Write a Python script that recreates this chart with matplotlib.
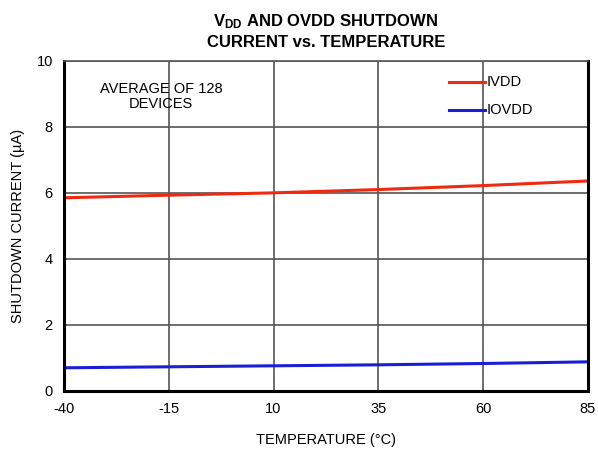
import matplotlib
matplotlib.use("Agg")
import matplotlib.pyplot as plt

# data
temps = [-40, -15, 10, 35, 60, 85]
ivdd = [5.85, 5.93, 6.0, 6.1, 6.22, 6.36]
iovdd = [0.70, 0.73, 0.76, 0.79, 0.83, 0.88]
xticks = [-40, -15, 10, 35, 60, 85]
yticks = [0, 2, 4, 6, 8, 10]

fam = ['Liberation Sans Narrow', 'Liberation Sans', 'DejaVu Sans']
plt.rcParams['font.family'] = fam
plt.rcParams['mathtext.fontset'] = 'custom'
plt.rcParams['mathtext.rm'] = 'Liberation Sans:bold'
plt.rcParams['mathtext.bf'] = 'Liberation Sans:bold'

fig = plt.figure(figsize=(5.98, 4.54), dpi=100)
ax = fig.add_axes([0.107, 0.139, 0.876, 0.727])

ax.plot(temps, ivdd, color='#ee2a10', lw=2.2)
ax.plot(temps, iovdd, color='#1a1fd6', lw=2.2)

ax.set_xlim(-40, 85)
ax.set_ylim(0, 10)
ax.set_xticks(xticks)
ax.set_yticks(yticks)
ax.set_xticklabels([str(t) for t in xticks])
ax.tick_params(length=0, labelsize=10.5, pad=8)
ax.grid(True, color='#555555', lw=1.2)
ax.set_axisbelow(True)
for s in ['left', 'bottom', 'right']:
    ax.spines[s].set_linewidth(2.2)
    ax.spines[s].set_color('black')
ax.spines['top'].set_linewidth(1.2)
ax.spines['top'].set_color('#555555')

ax.set_xlabel('TEMPERATURE (°C)', fontsize=10.5, labelpad=12)
ax.set_ylabel('SHUTDOWN CURRENT (µA)', fontsize=10.5, labelpad=8)
ax.set_title(r'$\mathrm{V_{DD}}$ AND OVDD SHUTDOWN' + '\nCURRENT vs. TEMPERATURE',
             fontsize=12, fontweight='bold', linespacing=1.35, pad=10)

ax.text(0.185, 0.935, 'AVERAGE OF 128\nDEVICES', transform=ax.transAxes,
        ha='center', va='top', fontsize=10.5, linespacing=1.1)

# legend drawn by hand like the original
ax.plot([0.735, 0.804], [0.935, 0.935], transform=ax.transAxes, color='#ee2a10', lw=2.2)
ax.text(0.806, 0.935, 'IVDD', transform=ax.transAxes, va='center', fontsize=10.5)
ax.plot([0.735, 0.804], [0.85, 0.85], transform=ax.transAxes, color='#1a1fd6', lw=2.2)
ax.text(0.806, 0.85, 'IOVDD', transform=ax.transAxes, va='center', fontsize=10.5)

fig.savefig('out.png', dpi=100)
